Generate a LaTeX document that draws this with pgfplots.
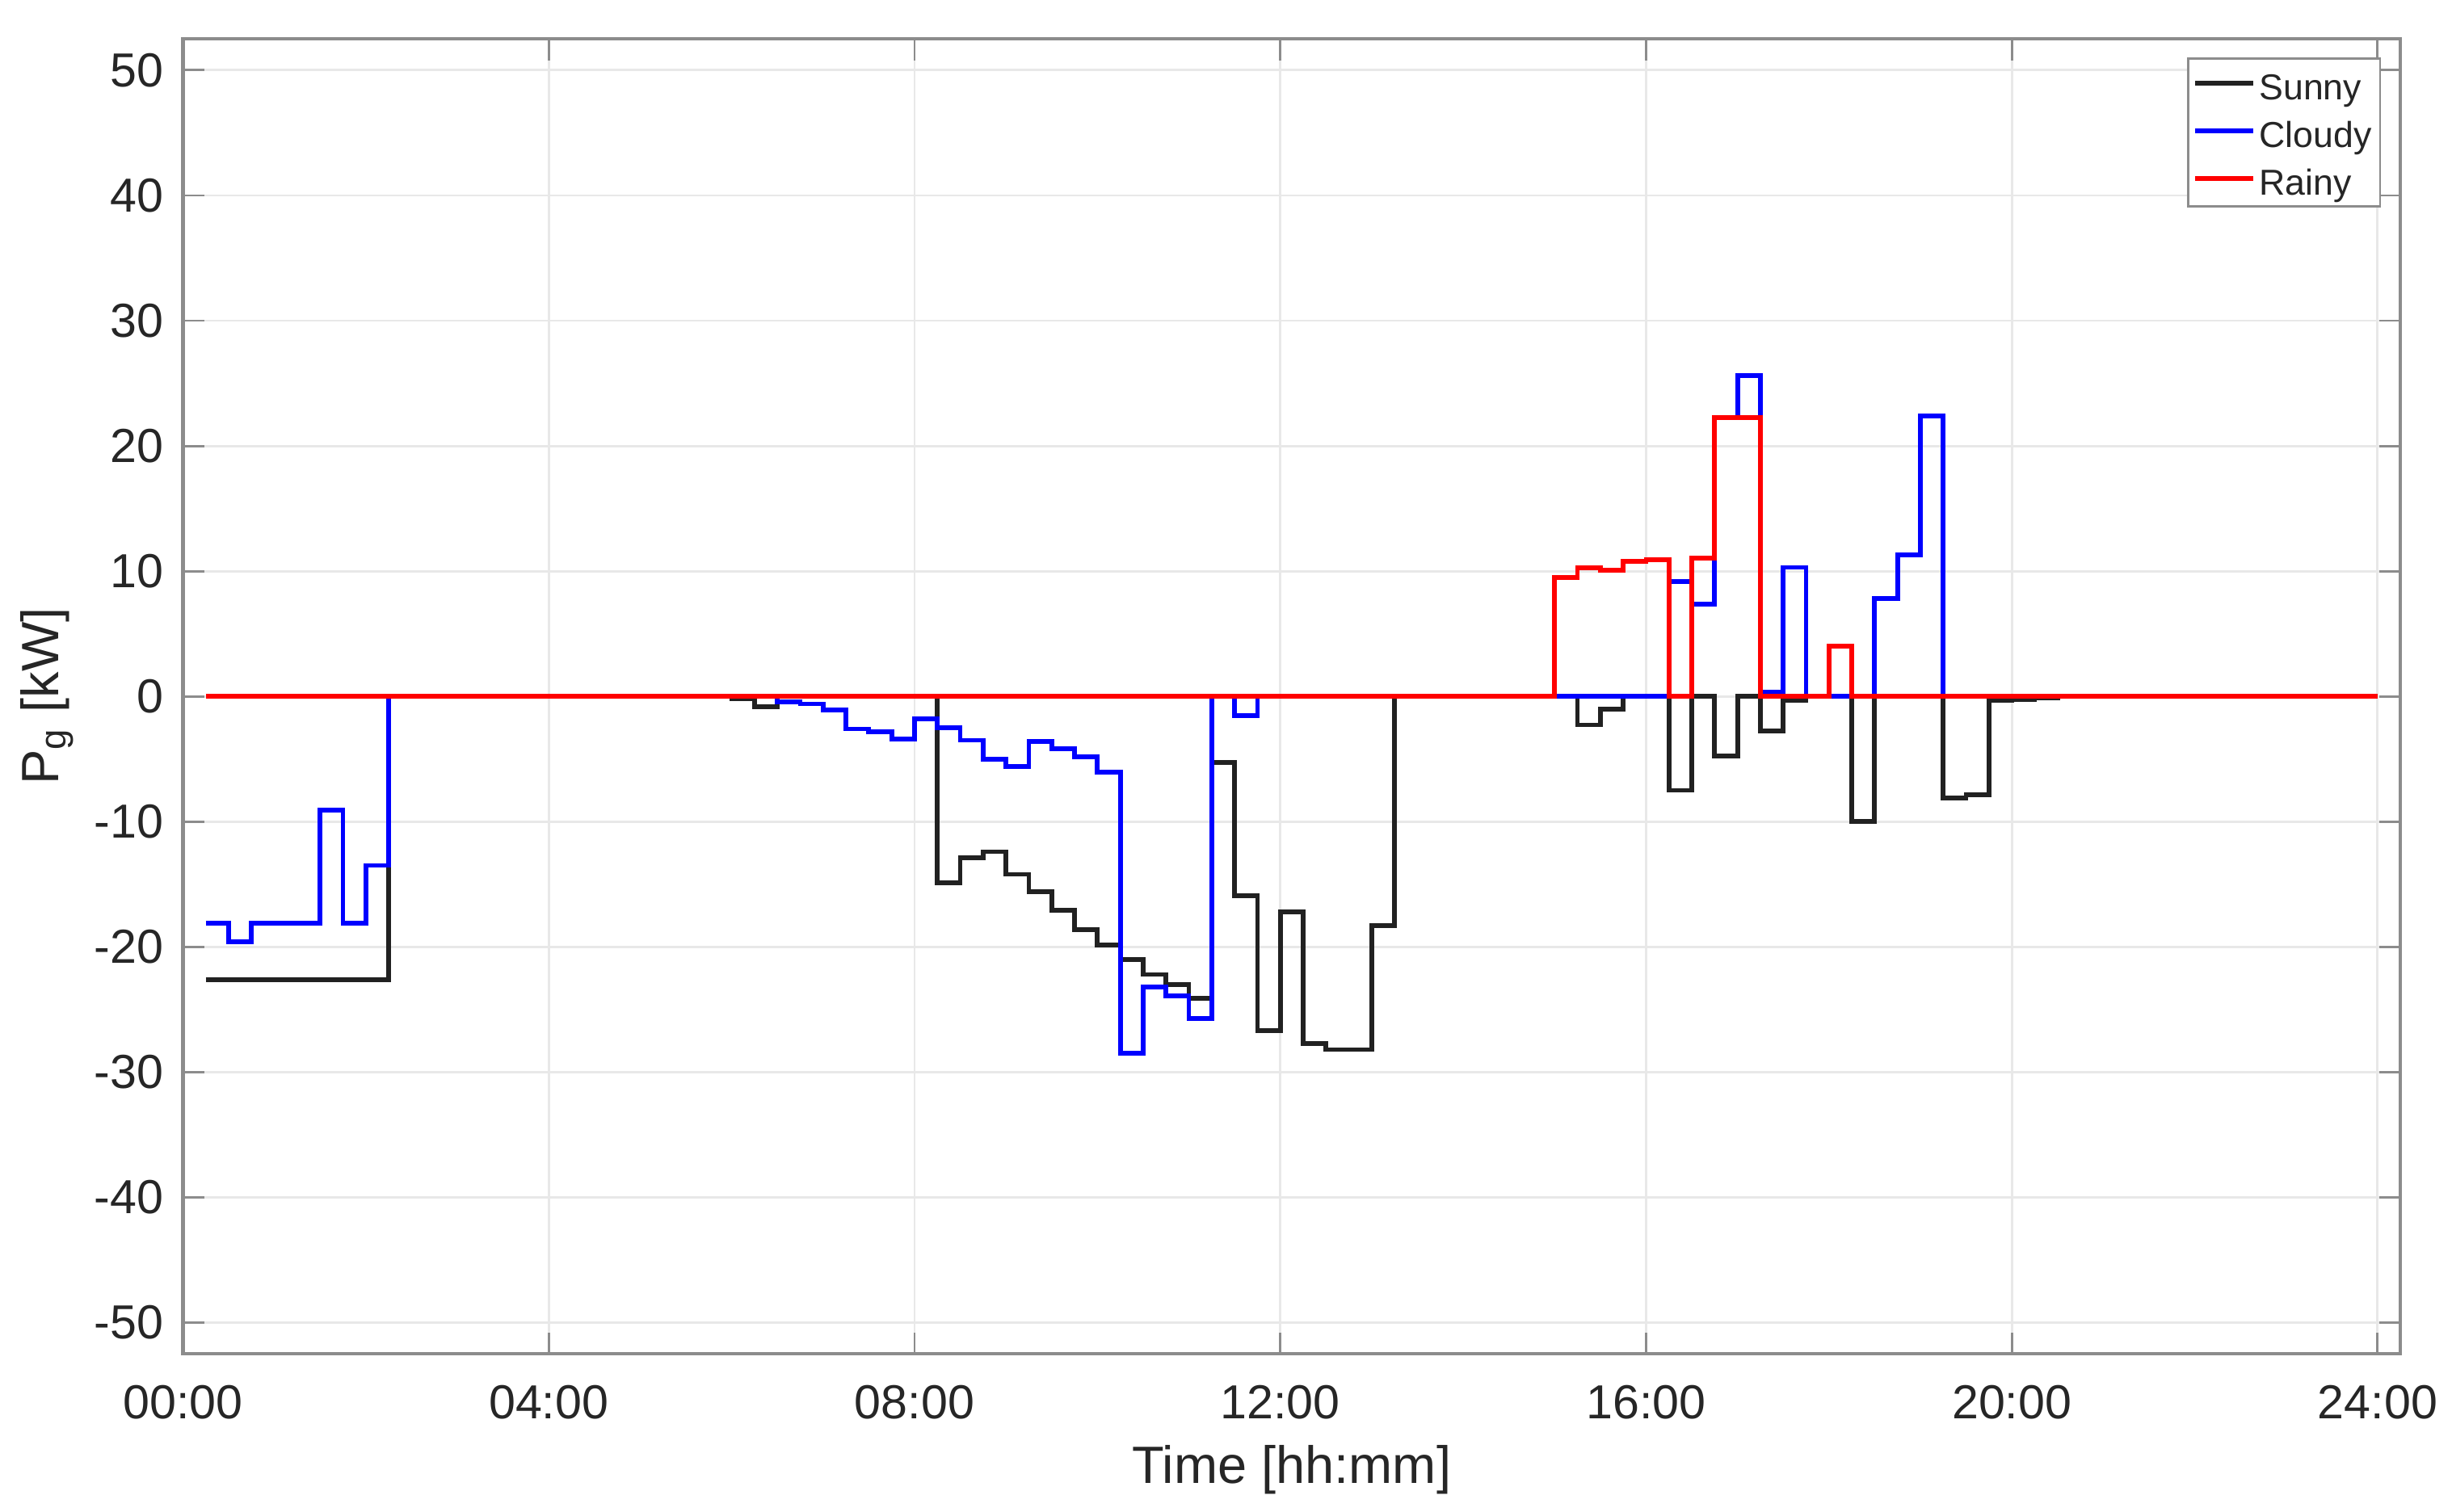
\documentclass[border=0pt]{standalone}
\usepackage{fontspec}
\setmainfont{Liberation Sans}
\usepackage{pgfplots}
\pgfplotsset{compat=1.18}
\usetikzlibrary{calc}
\definecolor{axgray}{gray}{0.55}
\definecolor{txt}{gray}{0.15}
\definecolor{mblue}{RGB}{0,0,255}
\definecolor{mred}{RGB}{255,0,0}
\definecolor{mblack}{gray}{0.13}

\begin{document}
\begin{tikzpicture}
\begin{axis}[
  scale only axis, width=473.2pt, height=280.7pt,
  xmin=0, xmax=24.25, ymin=-52.5, ymax=52.5,
  xtick={0,4,8,12,16,20,24},
  xticklabels={00:00,04:00,08:00,12:00,16:00,20:00,24:00},
  ytick={-50,-40,-30,-20,-10,0,10,20,30,40,50},
  yticklabels={-50,-40,-30,-20,-10,0,10,20,30,40,50},
  tick align=inside, tick pos=both,
  major tick length=4.6pt,
  tick style={axgray, line width=0.5pt},
  axis line style={axgray, line width=0.7pt},
  grid=major,
  major grid style={gray!18, line width=0.5pt},
  ticklabel style={font=\fontsize{10.2}{12}\selectfont, text=txt, inner sep=1pt},
  xticklabel style={anchor=center, yshift=-10.3pt},
  yticklabel style={anchor=east, xshift=-3pt},
  xlabel={Time [hh:mm]},
  ylabel={P\textsubscript{g} [kW]},
  label style={font=\fontsize{11.2}{13}\selectfont, text=txt, inner sep=1pt},
  xlabel style={at={(axis description cs:0.5,-0.088)}, anchor=center},
  ylabel style={at={(axis description cs:-0.0613,0.5)}, anchor=center},
  legend cell align=left,
  legend image code/.code={\draw[#1] (0.8pt,0.4pt) -- (13.2pt,0.4pt);},
  legend style={at={(axis description cs:1,1)}, anchor=north east,
    xshift=-4.1pt, yshift=-4pt, draw=axgray, line width=0.5pt,
    font=\fontsize{7.7}{9}\selectfont, text=txt,
    inner xsep=1pt, inner ysep=1pt, row sep=1.1pt,
    nodes={inner sep=0.8pt, text height=6.9pt, text depth=0.6pt}},
]
\coordinate (ll) at (rel axis cs:0,0);
\coordinate (ur) at (rel axis cs:1,1);

% Sunny
\addplot[const plot, mblack, line width=1pt] coordinates {
(0.25,-22.6) (2.25,0) (6.0,-0.2) (6.25,-0.8) (6.5,0)
(8.25,-14.9) (8.5,-12.9) (8.75,-12.4) (9.0,-14.2) (9.25,-15.6)
(9.5,-17.1) (9.75,-18.6) (10.0,-19.85) (10.25,-21.0) (10.5,-22.2)
(10.75,-23.0) (11.0,-24.1) (11.25,-5.25) (11.5,-15.9) (11.75,-26.7)
(12.0,-17.2) (12.25,-27.7) (12.5,-28.2) (13.0,-18.3) (13.25,0)
(15.25,-2.27) (15.5,-1.04) (15.75,0) (16.25,-7.5) (16.5,0)
(16.75,-4.74) (17.0,0) (17.25,-2.77) (17.5,-0.3) (17.75,0)
(18.25,-10.0) (18.5,0) (19.25,-8.1) (19.5,-7.85) (19.75,-0.34)
(20.0,-0.23) (20.25,-0.15) (20.5,0) (24.0,0)
};
\addlegendentry{Sunny}

% Cloudy
\addplot[const plot, mblue, line width=1pt] coordinates {
(0.25,-18.1) (0.5,-19.6) (0.75,-18.1) (1.5,-9.1) (1.75,-18.1)
(2.0,-13.5) (2.25,0) (6.5,-0.43) (6.75,-0.6) (7.0,-1.07)
(7.25,-2.6) (7.5,-2.8) (7.75,-3.4) (8.0,-1.8) (8.25,-2.5)
(8.5,-3.5) (8.75,-5.0) (9.0,-5.6) (9.25,-3.6) (9.5,-4.2)
(9.75,-4.8) (10.0,-6.05) (10.25,-28.5) (10.5,-23.2) (10.75,-23.9)
(11.0,-25.7) (11.25,0) (11.5,-1.55) (11.75,0) (16.25,9.16)
(16.5,7.36) (16.75,22.25) (17.0,25.6) (17.25,0.37) (17.5,10.3)
(17.75,0) (18.5,7.8) (18.75,11.3) (19.0,22.4) (19.25,0) (24.0,0)
};
\addlegendentry{Cloudy}

% Rainy
\addplot[const plot, mred, line width=1pt] coordinates {
(0.25,0) (15.0,9.5) (15.25,10.25) (15.5,10.07) (15.75,10.8)
(16.0,10.9) (16.25,0) (16.5,11.06) (16.75,22.25) (17.25,0)
(18.0,4.0) (18.25,0) (24.0,0)
};
\addlegendentry{Rainy}
\end{axis}
\path ($(ll)+(-39.05pt,-33.6pt)$) rectangle ($(ur)+(11pt,8.3pt)$);
\end{tikzpicture}
\end{document}
